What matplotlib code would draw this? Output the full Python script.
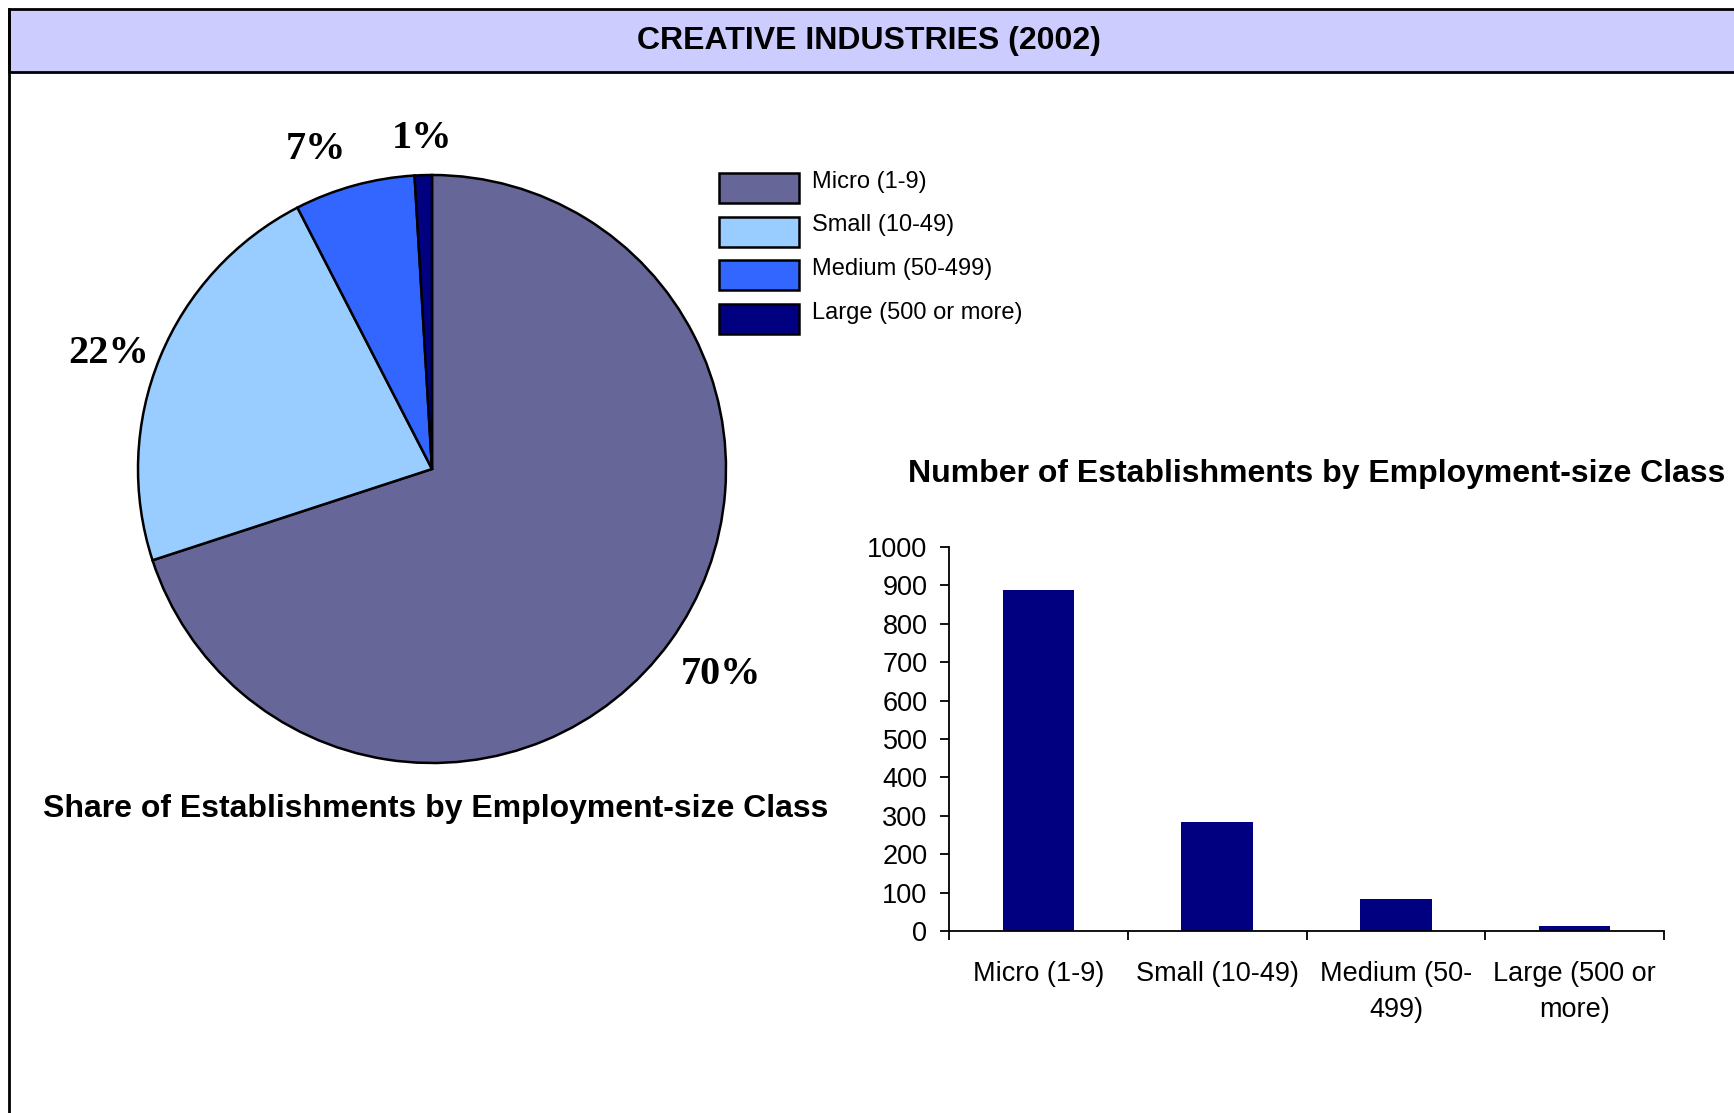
import matplotlib.pyplot as plt
from matplotlib.patches import Rectangle
from matplotlib.lines import Line2D
from matplotlib.transforms import Affine2D

# establishments by employment-size class, creative industries 2002
categories = ['Micro (1-9)', 'Small (10-49)', 'Medium (50-499)', 'Large (500 or more)']
tick_labels = ['Micro (1-9)', 'Small (10-49)', 'Medium (50-\n499)', 'Large (500 or\nmore)']
establishments = [888, 285, 84, 12]
pie_colors = ['#666699', '#99CCFF', '#3366FF', '#000080']
bar_color = '#000080'

W, H = 1734, 1113
fig = plt.figure(figsize=(W / 100, H / 100), dpi=100)
plt.rcParams['font.family'] = ['Liberation Sans', 'DejaVu Sans']


def fx(px):
    return px / W


def fy(py):
    return 1 - py / H


# outer frame and header band
fig.patches.append(Rectangle((fx(9), fy(72)), fx(W), fy(9) - fy(72), transform=fig.transFigure,
                             facecolor='#CCCCFF', edgecolor='black', linewidth=2))
fig.lines.append(Line2D([fx(9), fx(9)], [fy(9), 0], transform=fig.transFigure, color='black', linewidth=2))
fig.text(fx(869), fy(41), 'CREATIVE INDUSTRIES (2002)', ha='center', va='center',
         fontsize=23, fontweight='bold')

# pie of shares
cx, cy, r = 432, 469, 294
ax_pie = fig.add_axes([fx(cx - r), fy(cy + r), fx(2 * r), fy(cy - r) - fy(cy + r)])
wedges, _, pct_texts = ax_pie.pie(
    establishments, colors=pie_colors, startangle=90, counterclock=False,
    autopct=lambda p: f'{p:.0f}%', pctdistance=1.19,
    wedgeprops=dict(edgecolor='black', linewidth=1.8),
    textprops=dict(fontsize=29, fontweight='bold', family='Liberation Serif'))
ax_pie.set_xlim(-1, 1)
ax_pie.set_ylim(-1, 1)
ax_pie.set_aspect('equal')
# nudge the outside labels a little
label_nudge = [(0.02, 0.0), (0.0, -0.06), (-0.08, -0.06), (0.0, -0.065)]
for t, (dx, dy) in zip(pct_texts, label_nudge):
    px, py = t.get_position()
    t.set_position((px + dx, py + dy))
    t.set_clip_on(False)
fig.text(fx(436), fy(809), 'Share of Establishments by Employment-size Class',
         ha='center', va='center', fontsize=23, fontweight='bold')

fs_leg = 17
fs_px = fs_leg * 100 / 72
leg = fig.legend(wedges, categories, loc='upper left', bbox_to_anchor=(fx(719), fy(173)),
                 frameon=False, fontsize=fs_leg, borderpad=0, borderaxespad=0,
                 handlelength=80 / fs_px, handleheight=1.577,
                 labelspacing=0.58, handletextpad=0.55)
# raise legend text so the baseline sits at the middle of each swatch
for t in leg.get_texts():
    t.set_transform(t.get_transform() + Affine2D().translate(0, 8))

# bar chart of counts
ax_bar = fig.add_axes([fx(949), fy(931), fx(1664) - fx(949), fy(547) - fy(931)])
x = list(range(len(categories)))
ax_bar.bar(x, establishments, width=0.4, color=bar_color)
ax_bar.set_xlim(-0.5, len(categories) - 0.5)
ax_bar.set_ylim(0, 1000)
ax_bar.set_yticks(range(0, 1001, 100))
ax_bar.tick_params(axis='y', labelsize=19.5, length=6.5, width=1.3, pad=9, direction='out')
ax_bar.set_xticks([i - 0.5 for i in range(len(categories) + 1)])
ax_bar.set_xticklabels([])
ax_bar.set_xticks(x, minor=True)
ax_bar.set_xticklabels(tick_labels, minor=True, fontsize=19.5, linespacing=1.5)
ax_bar.tick_params(axis='x', which='major', length=6.5, width=1.3, direction='out')
ax_bar.tick_params(axis='x', which='minor', length=0, pad=21.5)
for side in ['top', 'right']:
    ax_bar.spines[side].set_visible(False)
for side in ['left', 'bottom']:
    ax_bar.spines[side].set_linewidth(1.3)
fig.text(fx(1317), fy(474), 'Number of Establishments by Employment-size Class',
         ha='center', va='center', fontsize=23, fontweight='bold')

fig.savefig('out.png', dpi=100)
